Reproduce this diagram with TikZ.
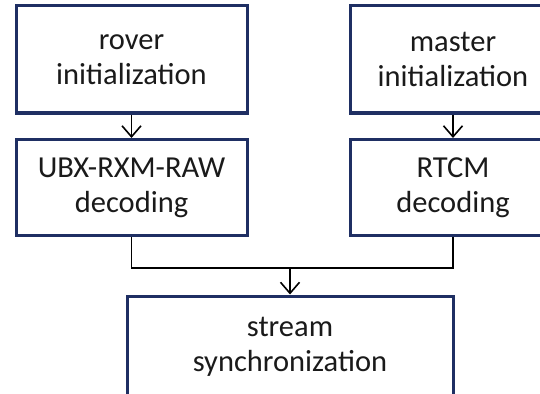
\documentclass[tikz,border=0pt]{standalone}
\usepackage{fontspec}
\setmainfont{Carlito}
\usetikzlibrary{arrows.meta}
\definecolor{boxline}{HTML}{1F2F63}
\definecolor{labeltext}{HTML}{1A1A1A}
\tikzset{
  stagebox/.style={draw=boxline, line width=3pt, fill=white, inner sep=0pt,
    align=center, text=labeltext,
    font=\fontsize{30.5}{35}\selectfont},
  flowline/.style={draw=black, line width=1.6pt},
  flowarrow/.style={flowline, -{Straight Barb[length=11pt,width=19pt,line width=1.6pt]}}
}
\begin{document}
\begin{tikzpicture}[x=1pt,y=-1pt]
  \useasboundingbox (0,0) rectangle (540,393);
  \clip (0,0) rectangle (540,393);
  \fill[white] (0,0) rectangle (540,393);

  % initialization stages
  \node[stagebox, minimum width=231pt, minimum height=107pt] (rover) at (131.5,59.5)
    {rover\\initialization};
  \node[stagebox, minimum width=206pt, minimum height=107pt] (master) at (453,59.5)
    {master\\initialization};

  % decoding stages
  \node[stagebox, minimum width=231pt, minimum height=96pt] (ubx) at (131.5,187.5)
    {UBX-RXM-RAW\\decoding};
  \node[stagebox, minimum width=206pt, minimum height=96pt] (rtcm) at (453,187.5)
    {RTCM\\decoding};

  % synchronization stage
  \node[stagebox, minimum width=326pt, minimum height=102pt] (sync) at (290,347)
    {stream\\synchronization};

  % connectors
  \draw[flowarrow] (rover.south) -- (ubx.north);
  \draw[flowarrow] (master.south) -- (rtcm.north);
  \coordinate (join) at (290,268);
  \draw[flowline] (ubx.south) |- (join) -| (rtcm.south);
  \draw[flowarrow] (join) -- (sync.north);
\end{tikzpicture}
\end{document}
